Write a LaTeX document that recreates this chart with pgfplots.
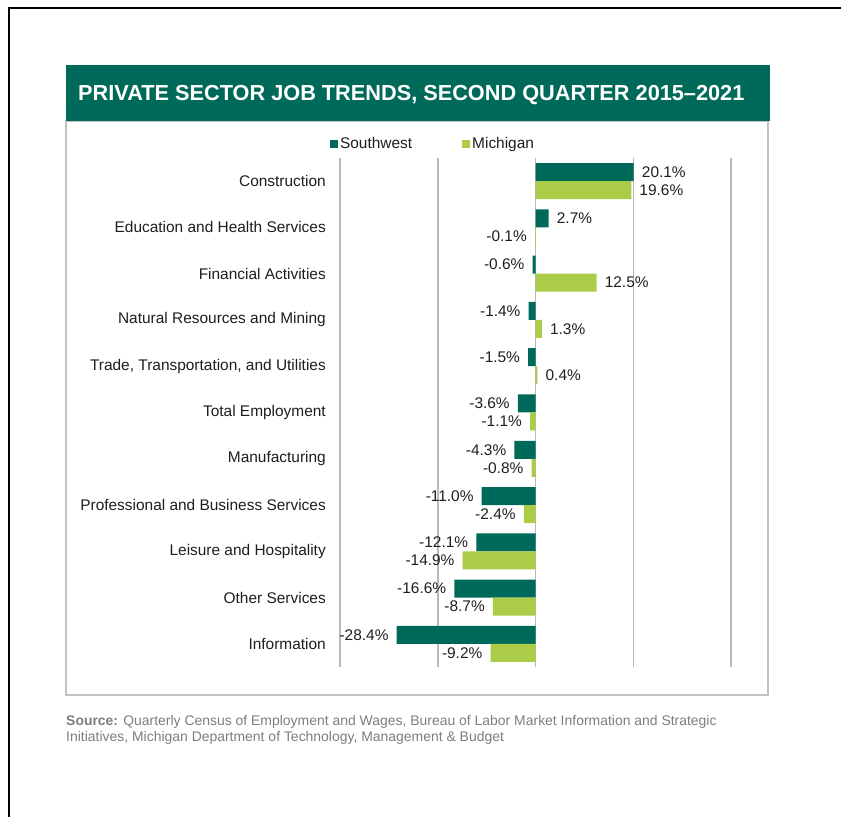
\documentclass[border=0pt]{standalone}
\usepackage{fontspec}
\setmainfont{Liberation Sans}
\usepackage{pgfplots}
\pgfplotsset{compat=1.18}
\definecolor{swgreen}{RGB}{0,106,90}
\definecolor{migreen}{RGB}{170,204,70}
\definecolor{gridgray}{RGB}{185,185,185}
\definecolor{boxgray}{RGB}{195,195,195}
\definecolor{srcgray}{RGB}{125,125,125}
\definecolor{txt}{RGB}{30,30,30}
\begin{document}
\begin{tikzpicture}[x=1bp,y=1bp]
\useasboundingbox (0,0) rectangle (841,817);
% page frame
\draw[black,line width=2bp] (9,0) -- (9,809) -- (841,809);
% chart box
\draw[boxgray,line width=1.5bp] (66,122) rectangle (768,696);
% banner
\fill[swgreen] (66,696) rectangle (770,752);
\node[anchor=base west,text=white,inner sep=0pt,font=\bfseries\fontsize{21.8}{24}\selectfont] at (78,716) {PRIVATE SECTOR JOB TRENDS, SECOND QUARTER 2015–2021};
% source
\node[anchor=base west,align=left,inner sep=0pt,text=srcgray,font=\fontsize{14}{17}\selectfont] at (66,75) {\textbf{Source:} Quarterly Census of Employment and Wages, Bureau of Labor Market Information and Strategic\\Initiatives, Michigan Department of Technology, Management \& Budget};
\begin{axis}[
  at={(340bp,150bp)}, anchor=south west,
  scale only axis, width=391bp, height=509bp,
  xbar, bar width=18bp,
  xmin=-40, xmax=40, ymin=-0.5, ymax=10.5, y dir=reverse,
  ytick={0,...,10},
  yticklabels={Construction,Education and Health Services,Financial Activities,Natural Resources and Mining,{Trade, Transportation, and Utilities},Total Employment,Manufacturing,Professional and Business Services,Leisure and Hospitality,Other Services,Information},
  xtick={-40,-20,0,20,40}, xticklabels={},
  xmajorgrids, major grid style={gridgray,line width=1.5bp},
  axis line style={draw=none}, major tick length=0pt,
  yticklabel style={font=\fontsize{15.5}{18}\selectfont,text=txt,inner sep=0pt,xshift=-14bp},
  nodes near coords={\pgfmathprintnumber[fixed,fixed zerofill,precision=1,assume math mode=true]{\pgfplotspointmeta}\%},
  nodes near coords align={horizontal},
  every node near coord/.append style={font=\fontsize{15.5}{18}\selectfont,text=txt,inner xsep=8bp,inner ysep=0pt},
  legend columns=2,
  legend image code/.code={\fill[#1] (0bp,-4bp) rectangle (8bp,4bp);},
  legend style={at={(axis description cs:0.238,1)},anchor=center,yshift=14bp,draw=none,fill=none,
    font=\fontsize{15.5}{18}\selectfont,text=txt,
    /tikz/every even column/.append style={column sep=48bp},
    nodes={inner sep=2bp}},
]
\addplot[draw=none,fill=swgreen,bar shift=9bp] coordinates {
(20.1,0) (2.7,1) (-0.6,2) (-1.4,3) (-1.5,4) (-3.6,5) (-4.3,6) (-11.0,7) (-12.1,8) (-16.6,9) (-28.4,10)};
\addplot[draw=none,fill=migreen,bar shift=-9bp] coordinates {
(19.6,0) (-0.1,1) (12.5,2) (1.3,3) (0.4,4) (-1.1,5) (-0.8,6) (-2.4,7) (-14.9,8) (-8.7,9) (-9.2,10)};
\legend{Southwest,Michigan}
\end{axis}
\end{tikzpicture}
\end{document}
